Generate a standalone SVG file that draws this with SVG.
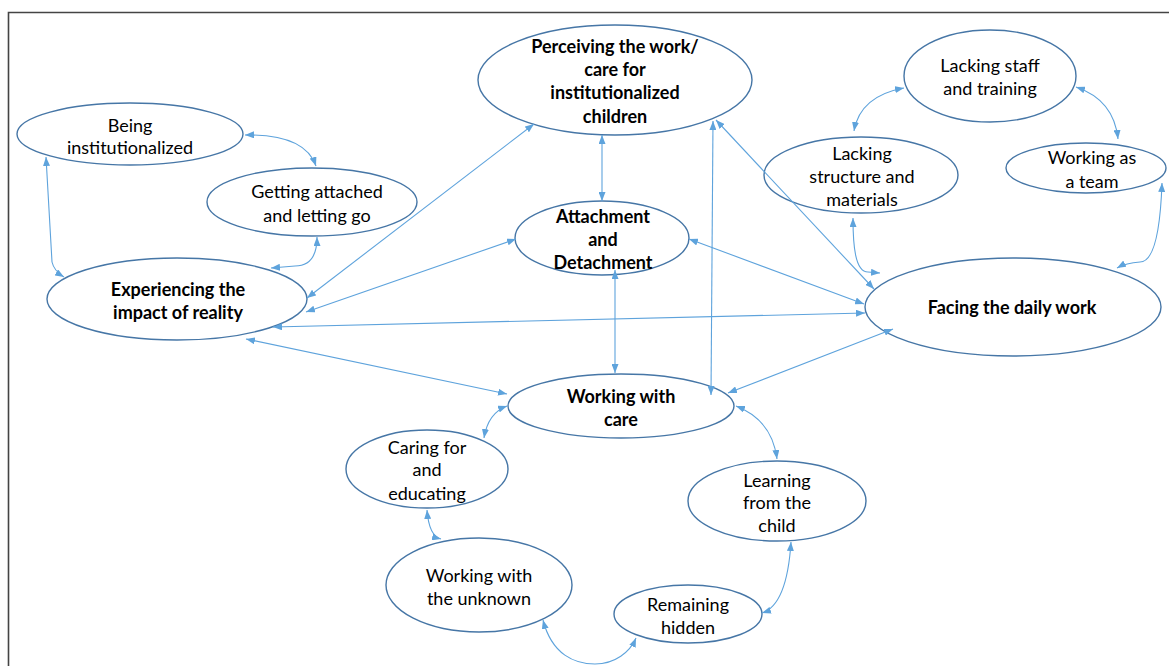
<svg xmlns="http://www.w3.org/2000/svg" width="1169" height="666" viewBox="0 0 1169 666">
<style>
.n ellipse{fill:#fff;stroke:#4676a6;stroke-width:1.4}
.n text{font-family:Lato,"Liberation Sans",sans-serif;font-size:18px;fill:#000;text-anchor:middle}
.n text.b{font-weight:bold}
#connectors path{fill:none;stroke:#5ea3dc;stroke-width:1.1;marker-start:url(#ah);marker-end:url(#ah)}
</style>
<defs>
<marker id="ah" viewBox="0 0 9 7" refX="9" refY="3.5" markerWidth="9" markerHeight="7" markerUnits="userSpaceOnUse" orient="auto-start-reverse">
<path d="M0,0 L9,3.5 L0,7 z" fill="#5ea3dc"/>
</marker>
</defs>
<rect width="1169" height="666" fill="#fff"/>
<path d="M8.5,666 V12.5 H1169" fill="none" stroke="#444" stroke-width="1.6"/>

<g id="n-perceiving" class="n"><ellipse cx="615" cy="80" rx="137" ry="55"/>
<text class="b" x="615" y="53">Perceiving the work/</text><text class="b" x="615" y="76">care for</text><text class="b" x="615" y="99">institutionalized</text><text class="b" x="615" y="123">children</text></g>
<g id="n-attachment" class="n"><ellipse cx="602" cy="238" rx="87" ry="37"/>
<text class="b" x="603" y="223">Attachment</text><text class="b" x="603" y="246">and</text><text class="b" x="603" y="269">Detachment</text></g>
<g id="n-being" class="n"><ellipse cx="130" cy="134" rx="113" ry="31"/>
<text x="130" y="132">Being</text><text x="130" y="154">institutionalized</text></g>
<g id="n-getting" class="n"><ellipse cx="312" cy="202" rx="105" ry="34"/>
<text x="317" y="198">Getting attached</text><text x="317" y="222">and letting go</text></g>
<g id="n-experiencing" class="n"><ellipse cx="177" cy="299" rx="130" ry="41"/>
<text class="b" x="178" y="296">Experiencing the</text><text class="b" x="178" y="319">impact of reality</text></g>
<g id="n-staff" class="n"><ellipse cx="990" cy="76" rx="86" ry="46"/>
<text x="990" y="72">Lacking staff</text><text x="990" y="95">and training</text></g>
<g id="n-structure" class="n"><ellipse cx="861" cy="175" rx="97" ry="38"/>
<text x="862" y="160">Lacking</text><text x="862" y="183">structure and</text><text x="862" y="206">materials</text></g>
<g id="n-team" class="n"><ellipse cx="1086" cy="168" rx="80" ry="25"/>
<text x="1092" y="164">Working as</text><text x="1092" y="188">a team</text></g>
<g id="n-facing" class="n"><ellipse cx="1013" cy="307" rx="148" ry="49"/>
<text class="b" x="1012" y="314">Facing the daily work</text></g>
<g id="n-care" class="n"><ellipse cx="621" cy="406" rx="113" ry="32"/>
<text class="b" x="621" y="403">Working with</text><text class="b" x="621" y="426">care</text></g>
<g id="n-caring" class="n"><ellipse cx="427" cy="469" rx="81" ry="39"/>
<text x="427" y="454">Caring for</text><text x="427" y="476">and</text><text x="427" y="500">educating</text></g>
<g id="n-unknown" class="n"><ellipse cx="479" cy="585" rx="93" ry="47"/>
<text x="479" y="582">Working with</text><text x="479" y="605">the unknown</text></g>
<g id="n-learning" class="n"><ellipse cx="777" cy="501" rx="89" ry="40"/>
<text x="777" y="487">Learning</text><text x="777" y="509">from the</text><text x="777" y="532">child</text></g>
<g id="n-hidden" class="n"><ellipse cx="688" cy="614" rx="74" ry="29"/>
<text x="688" y="611">Remaining</text><text x="688" y="634">hidden</text></g>

<g id="connectors">
<path d="M245,135 Q305,134 316,166"/>
<path d="M46,157 L52,262 Q54,271 64,277"/>
<path d="M317,237 Q317,266 295,266 L271,268"/>
<path d="M534,124 L307,298"/>
<path d="M516,239 L306,312"/>
<path d="M273,327 L865,313"/>
<path d="M246,339 L507,394"/>
<path d="M602,135 L602,201"/>
<path d="M615,270 L615,373"/>
<path d="M713,121 L711,395"/>
<path d="M716,120 L874,289"/>
<path d="M689,239 L864,304"/>
<path d="M893,329 L728,393"/>
<path d="M507,406 Q488,413 484,438"/>
<path d="M427,510 Q429,536 441,539"/>
<path d="M543,620 C552,655 575,664 595,664 C615,664 630,652 636,638"/>
<path d="M762,613 Q787,605 791,542"/>
<path d="M736,406 Q772,420 777,459"/>
<path d="M904,88 Q860,96 854,131"/>
<path d="M1076,87 Q1114,100 1118,139"/>
<path d="M853,218 C853,245 855,272 868,272 L880,273"/>
<path d="M1162,183 C1160,240 1152,262 1140,262 Q1126,263 1117,268"/>
</g>
</svg>
